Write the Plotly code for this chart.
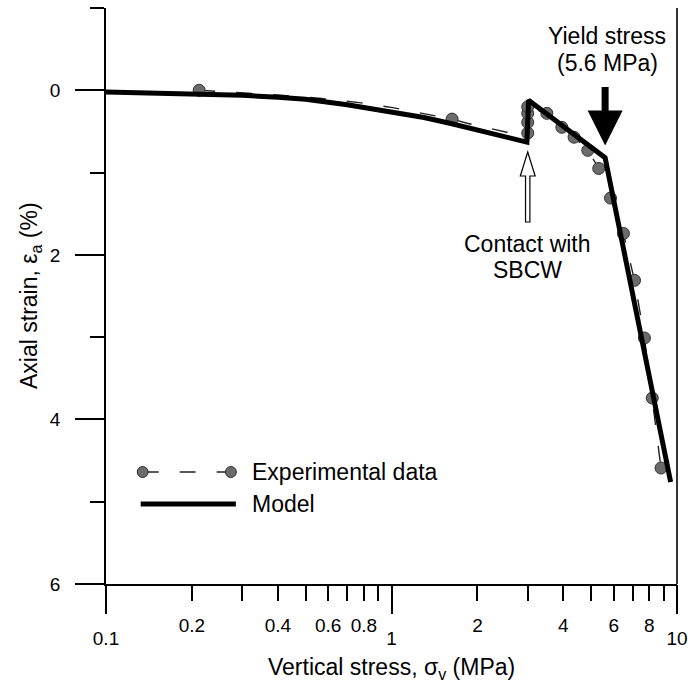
import numpy as np
import plotly.graph_objects as go

# ---------------- data ----------------
# experimental data points (markers)
exp_stress = [0.212, 1.63, 3.0, 3.0, 3.0, 3.0, 3.5, 3.95, 4.36, 4.87, 5.32, 5.85,
              6.49, 7.10, 7.69, 8.19, 8.79]
exp_strain = [0.0, 0.35, 0.52, 0.39, 0.28, 0.2, 0.28, 0.45, 0.57, 0.73, 0.95, 1.31,
              1.74, 2.31, 3.01, 3.74, 4.59]
# dashed experimental curve
exp_curve_stress = [0.212, 0.30, 0.41, 0.57, 0.77, 1.01, 1.37, 1.63, 1.84, 2.53, 3.0,
                    3.0, 3.0, 3.0, 3.5, 3.95, 4.36, 4.87, 5.32, 5.85, 6.49, 7.10,
                    7.69, 8.19, 8.79]
exp_curve_strain = [0.0, 0.03, 0.06, 0.10, 0.15, 0.21, 0.30, 0.35, 0.40, 0.51, 0.52,
                    0.39, 0.28, 0.2, 0.28, 0.45, 0.57, 0.73, 0.95, 1.31, 1.74, 2.31,
                    3.01, 3.74, 4.59]

model_stress = [0.1, 0.15, 0.2, 0.3, 0.4, 0.5, 0.7, 1.0, 1.3, 1.6, 2.0, 2.5, 2.98,
                3.02, 5.6, 9.5]
model_strain = [0.02, 0.03, 0.04, 0.06, 0.085, 0.11, 0.175, 0.26, 0.33, 0.40, 0.48,
                0.56, 0.63, 0.12, 0.82, 4.76]

yield_stress = 5.6
contact_stress = 3.0

x_major_vals = [0.1, 1, 10]
x_major_text = ["0.1", "1", "10"]
x_minor_vals = [0.2, 0.3, 0.4, 0.5, 0.6, 0.7, 0.8, 0.9, 2, 3, 4, 5, 6, 7, 8, 9]
x_minor_text = ["0.2", "", "0.4", "", "0.6", "", "0.8", "", "2", "", "4", "", "6", "", "8", ""]
y_major_vals = [0, 2, 4, 6]
y_minor_vals = [-1, 1, 3, 5]

FONT = "Liberation Sans, Arial, sans-serif"
TICKF = 19
TXTF = 23

# plot area geometry (pixels)
W, H = 696, 688
ML, MR, MT, MB = 106, 14, 8, 104
PW, PH = W - ML - MR, H - MT - MB


def px2paper(px, py):
    return (px - ML) / PW, (H - MB - py) / PH


DASH = "16px,21px"
fig = go.Figure()

fig.add_trace(go.Scatter(
    x=exp_curve_stress, y=exp_curve_strain, mode="lines",
    line=dict(color="#222222", width=1.4, dash=DASH),
    showlegend=False, hoverinfo="skip"))

fig.add_trace(go.Scatter(
    x=model_stress, y=model_strain, mode="lines", xaxis="x2",
    line=dict(color="black", width=5),
    showlegend=False, hoverinfo="skip"))

fig.add_trace(go.Scatter(
    x=exp_stress, y=exp_strain, mode="markers",
    marker=dict(size=12, color="#6b6b6b", line=dict(color="#333333", width=1)),
    showlegend=False, hoverinfo="skip"))

common_x = dict(type="log", range=[-1, 1], ticks="outside", tickcolor="black",
                tickwidth=1.5, showgrid=False, zeroline=False,
                tickfont=dict(family=FONT, size=TICKF, color="black"))

fig.update_layout(
    width=W, height=H,
    margin=dict(l=ML, r=MR, t=MT, b=MB),
    paper_bgcolor="white", plot_bgcolor="white",
    font=dict(family=FONT, color="black"),
    showlegend=False,
    xaxis=dict(**common_x, tickmode="array", tickvals=x_minor_vals, ticktext=x_minor_text,
               ticklen=15, ticklabelstandoff=8,
               showline=True, linecolor="black", linewidth=1.6),
    xaxis2=dict(**common_x, overlaying="x", anchor="y", side="bottom",
                tickmode="array", tickvals=x_major_vals, ticktext=x_major_text,
                ticklen=29, ticklabelstandoff=8, showline=False),
    yaxis=dict(range=[6, -1], tickmode="array", tickvals=y_major_vals,
               ticks="outside", ticklen=29, tickwidth=1.5, tickcolor="black",
               ticklabelstandoff=11,
               minor=dict(tickvals=y_minor_vals, ticklen=14, tickwidth=1.5,
                          tickcolor="black", ticks="outside"),
               showline=True, linecolor="black", linewidth=1.6,
               showgrid=False, zeroline=False,
               tickfont=dict(family=FONT, size=TICKF, color="black")),
)

shapes = []
# right frame line
shapes.append(dict(type="line", xref="paper", yref="paper", x0=1, x1=1, y0=0, y1=1,
                   line=dict(color="black", width=1.6)))

# hollow "contact" arrow (pixel geometry around contact stress)
cx = (np.log10(contact_stress) + 1) / 2
def pp(dx, py):
    return cx + dx / PW, (H - MB - py) / PH
pts = [pp(0, 152), pp(7.5, 176), pp(2.2, 176), pp(2.2, 222), pp(-2.2, 222),
       pp(-2.2, 176), pp(-7.5, 176)]
path = "M " + " L ".join(f"{a:.5f},{b:.5f}" for a, b in pts) + " Z"
shapes.append(dict(type="path", xref="paper", yref="paper", path=path,
                   fillcolor="white", line=dict(color="black", width=1.2)))

# legend samples
lx0, lx1 = 143, 232
y_e, y_m = 472, 504
a0, b0 = px2paper(lx0, y_e)
a1, b1 = px2paper(lx1, y_e)
shapes.append(dict(type="line", xref="paper", yref="paper", x0=a0, x1=a1, y0=b0, y1=b0,
                   line=dict(color="#222222", width=1.4, dash=DASH)))
for cxp in (lx0, lx1):
    c0 = px2paper(cxp - 5.5, y_e - 5.5)
    c1 = px2paper(cxp + 5.5, y_e + 5.5)
    shapes.append(dict(type="circle", xref="paper", yref="paper",
                       x0=c0[0], x1=c1[0], y0=c1[1], y1=c0[1],
                       fillcolor="#6b6b6b", line=dict(color="#333333", width=1)))
m0 = px2paper(141, y_m)
m1 = px2paper(237, y_m)
shapes.append(dict(type="line", xref="paper", yref="paper", x0=m0[0], x1=m1[0],
                   y0=m0[1], y1=m0[1], line=dict(color="black", width=5)))
fig.update_layout(shapes=shapes)

ann = []
tf = dict(family=FONT, size=TXTF, color="black")
# axis titles
ann.append(dict(text="Vertical stress, σ<sub>v</sub> (MPa)", xref="paper", yref="paper",
                x=0.5, y=0, yshift=-84, showarrow=False, font=tf,
                xanchor="center", yanchor="middle"))
ann.append(dict(text="Axial strain, ε<sub>a</sub> (%)", xref="paper", yref="paper",
                x=0, y=0.5, xshift=-76, showarrow=False, font=tf, textangle=-90,
                xanchor="center", yanchor="middle"))
# legend text
p = px2paper(251, y_e)
ann.append(dict(text="Experimental data", xref="paper", yref="paper", x=p[0], y=p[1],
                showarrow=False, font=tf, xanchor="left", yanchor="middle"))
p = px2paper(251, y_m)
ann.append(dict(text="Model", xref="paper", yref="paper", x=p[0], y=p[1],
                showarrow=False, font=tf, xanchor="left", yanchor="middle"))
# yield stress annotation
ly = np.log10(yield_stress)
ann.append(dict(text="Yield stress", x=ly, y=-0.66, xref="x", yref="y", showarrow=False,
                font=tf, xanchor="center", yanchor="middle", xshift=2))
ann.append(dict(text="(5.6 MPa)", x=ly, y=-0.335, xref="x", yref="y", showarrow=False,
                font=tf, xanchor="center", yanchor="middle", xshift=2))
ann.append(dict(text="", x=ly, y=0.67, xref="x", yref="y", showarrow=True,
                ax=0, ay=-60, arrowhead=2, arrowsize=1, arrowwidth=7, arrowcolor="black"))
# contact annotation
lc = np.log10(contact_stress)
ann.append(dict(text="Contact with", x=lc, y=1.87, xref="x", yref="y", showarrow=False,
                font=tf, xanchor="center", yanchor="middle"))
ann.append(dict(text="SBCW", x=lc, y=2.19, xref="x", yref="y", showarrow=False,
                font=tf, xanchor="center", yanchor="middle"))
fig.update_layout(annotations=ann)

fig.write_html("out.html")
